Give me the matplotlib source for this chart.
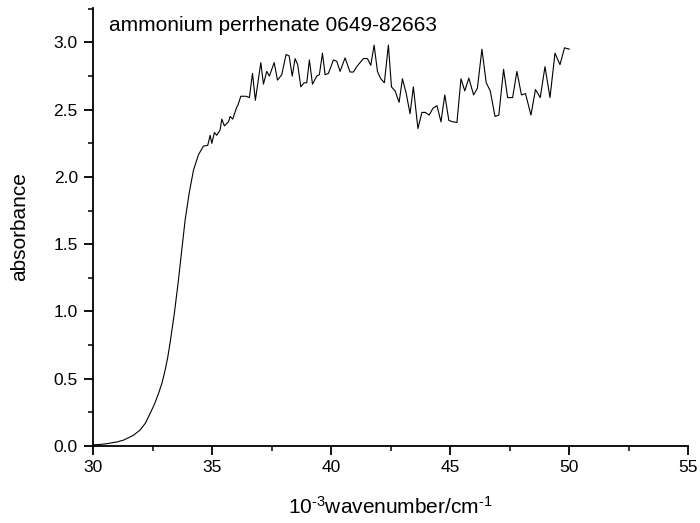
import matplotlib
matplotlib.use("Agg")
import matplotlib.pyplot as plt

plt.rcParams['font.family'] = ['Liberation Sans', 'DejaVu Sans']
plt.rcParams['mathtext.fontset'] = 'custom'
plt.rcParams['mathtext.rm'] = 'Liberation Sans'
plt.rcParams['mathtext.it'] = 'Liberation Sans:italic'

# absorbance spectrum, x in 10^3 cm^-1
wavenumber = [
    30.0, 30.5, 31.0, 31.3, 31.7, 31.98, 32.2, 32.4, 32.58, 32.75, 32.9, 33.03,
    33.14, 33.24, 33.33, 33.42, 33.59, 33.73, 33.87, 34.04, 34.22, 34.43, 34.64, 34.82,
    34.92, 34.99, 35.10, 35.20, 35.34, 35.41, 35.52, 35.69, 35.76, 35.87,
    36.04, 36.08, 36.21, 36.43, 36.57, 36.70, 36.82, 37.05, 37.16, 37.30,
    37.41, 37.61, 37.75, 37.93, 38.11, 38.24, 38.37, 38.49, 38.60, 38.73,
    38.87, 38.98, 39.09, 39.22, 39.40, 39.51, 39.64, 39.75, 39.89, 40.10,
    40.24, 40.38, 40.59, 40.80, 40.94, 41.08, 41.22, 41.36, 41.53, 41.67,
    41.81, 41.95, 42.09, 42.24, 42.41, 42.54, 42.69, 42.86, 43.00, 43.16,
    43.32, 43.46, 43.65, 43.82, 43.96, 44.12, 44.28, 44.45, 44.62, 44.78,
    44.95, 45.12, 45.29, 45.46, 45.62, 45.79, 45.99, 46.15, 46.34, 46.52,
    46.69, 46.89, 47.05, 47.25, 47.42, 47.63, 47.81, 48.00, 48.17, 48.40,
    48.59, 48.79, 48.99, 49.20, 49.41, 49.62, 49.81, 50.01,
]
absorbance = [
    0.008, 0.015, 0.03, 0.045, 0.08, 0.119, 0.17, 0.243, 0.31, 0.39, 0.47, 0.565,
    0.66, 0.77, 0.88, 0.99, 1.235, 1.46, 1.68, 1.88, 2.05, 2.165, 2.23, 2.235,
    2.31, 2.25, 2.33, 2.31, 2.35, 2.43, 2.38, 2.41, 2.45, 2.43,
    2.52, 2.53, 2.60, 2.60, 2.59, 2.77, 2.57, 2.85, 2.69, 2.785,
    2.75, 2.85, 2.72, 2.76, 2.91, 2.90, 2.75, 2.88, 2.835, 2.67,
    2.70, 2.70, 2.87, 2.69, 2.75, 2.76, 2.92, 2.76, 2.77, 2.87,
    2.86, 2.785, 2.885, 2.78, 2.78, 2.82, 2.85, 2.88, 2.88, 2.83,
    2.98, 2.785, 2.73, 2.70, 2.98, 2.67, 2.64, 2.555, 2.73, 2.62,
    2.47, 2.67, 2.36, 2.48, 2.48, 2.46, 2.51, 2.53, 2.41, 2.61,
    2.42, 2.41, 2.405, 2.73, 2.64, 2.735, 2.61, 2.66, 2.95, 2.70,
    2.64, 2.45, 2.46, 2.80, 2.59, 2.59, 2.785, 2.61, 2.62, 2.46,
    2.65, 2.59, 2.82, 2.59, 2.92, 2.835, 2.96, 2.95,
]

x_ticks = [30, 35, 40, 45, 50, 55]
y_ticks = [0.0, 0.5, 1.0, 1.5, 2.0, 2.5, 3.0]

fig = plt.figure(figsize=(7, 5.23), dpi=100)
ax = fig.add_axes([0.1329, 0.1472, 0.85, 0.8375])

ax.plot(wavenumber, absorbance, color='black', linewidth=0.8)

ax.set_xlim(30, 55)
ax.set_ylim(0, 3.256)
ax.set_xticks(x_ticks)
ax.set_yticks(y_ticks)
ax.set_xticklabels([str(t) for t in x_ticks])
ax.set_yticklabels([f"{t:.1f}" for t in y_ticks])
ax.set_xticks([32.5, 37.5, 42.5, 47.5, 52.5], minor=True)
ax.set_yticks([0.25, 0.75, 1.25, 1.75, 2.25, 2.75, 3.25], minor=True)

for side in ['top', 'right']:
    ax.spines[side].set_visible(False)
for side in ['left', 'bottom']:
    ax.spines[side].set_linewidth(1.3)

ax.tick_params(which='major', direction='out', length=6.5, width=1.3, labelsize=12.5)
ax.tick_params(which='minor', direction='out', length=3.5, width=1.1)
ax.tick_params(axis='x', which='major', pad=3.5)
ax.tick_params(axis='y', which='major', pad=4.5)

ax.set_xlabel('10$^{\u20103}$wavenumber/cm$^{\u20101}$', fontsize=15)
ax.set_ylabel('absorbance', fontsize=15)
ax.xaxis.set_label_coords(0.5, -0.113)
ax.yaxis.set_label_coords(-0.107, 0.5)

ax.text(0.027, 0.948, 'ammonium perrhenate 0649-82663', transform=ax.transAxes,
        fontsize=15, va='baseline', ha='left')

fig.savefig('out.png', dpi=100)
